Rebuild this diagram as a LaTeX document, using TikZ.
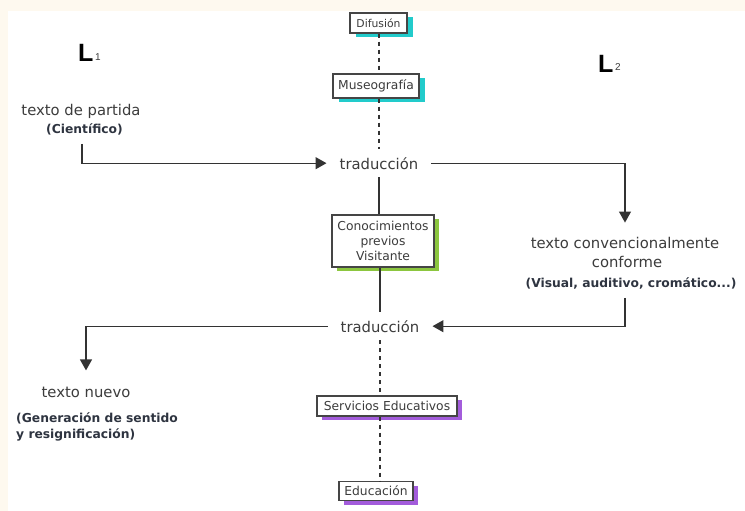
\documentclass[tikz,border=0pt]{standalone}
\usepackage{fontspec}
\setmainfont{DejaVu Sans}
\newfontfamily\Lfont{Liberation Sans}
\usetikzlibrary{arrows.meta,shadows}
\definecolor{bgcream}{HTML}{FEF9EF}
\definecolor{txtgray}{HTML}{3C3C3C}
\definecolor{boldgray}{HTML}{2E3440}
\definecolor{linegray}{HTML}{333333}
\definecolor{boxline}{HTML}{454545}
\definecolor{shcyan}{HTML}{22CBCB}
\definecolor{shgreen}{HTML}{8CC63F}
\definecolor{shpurple}{HTML}{A35CDB}
\tikzset{
  boxnode/.style={draw=boxline, line width=1.1pt, fill=white, inner sep=0pt,
    text=txtgray, font=\fontsize{12.3}{15}\selectfont, align=center},
  shcy/.style={drop shadow={shadow xshift=6pt, shadow yshift=-4pt, fill=shcyan, opacity=1}},
  shgr/.style={drop shadow={shadow xshift=5pt, shadow yshift=-4pt, fill=shgreen, opacity=1}},
  shpu/.style={drop shadow={shadow xshift=5pt, shadow yshift=-4pt, fill=shpurple, opacity=1}},
  maintxt/.style={text=txtgray, font=\fontsize{14.8}{18}\selectfont, inner sep=2pt, anchor=base},
  boldtxt/.style={text=boldgray, font=\fontsize{12.3}{16}\selectfont\bfseries, inner sep=2pt, anchor=base},
  trnode/.style={maintxt, inner xsep=13pt, inner ysep=8pt},
  arr/.style={draw=linegray, line width=1.2pt, -{Triangle[length=11pt,width=12pt]}},
  sline/.style={draw=linegray, line width=1.2pt},
  dline/.style={draw=linegray, line width=1.3pt, dash pattern=on 4pt off 4pt},
  Lbig/.style={font=\Lfont\bfseries\fontsize{25}{25}\selectfont, text=black, inner sep=0pt, anchor=base west},
  Lsub/.style={font=\Lfont\fontsize{10}{10}\selectfont, text=txtgray, inner sep=0pt, anchor=base west}
}
\begin{document}
\begin{tikzpicture}[x=1pt,y=-1pt]
\useasboundingbox (0,0) rectangle (745,511);
\fill[bgcream] (0,0) rectangle (745,511);
\fill[white] (8,11) rectangle (745,511);

% boxes
\node[boxnode, shcy, minimum width=57pt, minimum height=20pt, font=\fontsize{10.8}{12}\selectfont] (dif) at (378.5,23) {Difusión};
\node[boxnode, shcy, minimum width=86pt, minimum height=24pt] (mus) at (376,86) {Museografía};
\node[boxnode, shgr, minimum width=102pt, minimum height=52pt] (con) at (383,241) {Conocimientos\\previos\\Visitante};
\node[boxnode, shpu, minimum width=140pt, minimum height=20pt] (ser) at (387,406) {Servicios Educativos};
\node[boxnode, shpu, minimum width=74pt, minimum height=19pt] (edu) at (376,491) {Educación};

% traducción nodes
\node[trnode] (tr1) at (379,169) {traducción};
\node[trnode] (tr2) at (380,332) {traducción};

% L labels
\node[Lbig] (L1) at (78,62) {L};
\node[Lsub] (L1s) at (95,61) {1};
\node[Lbig] (L2) at (598,73) {L};
\node[Lsub] (L2s) at (615,71) {2};

% left top text
\node[maintxt] (part) at (81,115) {texto de partida};
\node[boldtxt] (cien) at (84.5,133) {(Científico)};

% right text
\node[maintxt] (conv1) at (625,248) {texto convencionalmente};
\node[maintxt] (conv2) at (627,267) {conforme};
\node[boldtxt] (conv3) at (631,287) {(Visual, auditivo, cromático...)};

% left bottom text
\node[maintxt] (nuevo) at (86,397) {texto nuevo};
\node[boldtxt, anchor=base west, inner sep=0pt] (gen1) at (16,422) {(Generación de sentido};
\node[boldtxt, anchor=base west, inner sep=0pt] (gen2) at (16,438) {y resignificación)};

% central axis
\draw[dline] (dif.south -| tr1) -- (mus.north -| tr1);
\draw[dline] (mus.south -| tr1) -- (tr1.north);
\draw[sline] (tr1.south) -- (con.north -| tr1);
\draw[sline] (con.south -| tr2) -- (tr2.north);
\draw[dline] (tr2.south) -- (ser.north -| tr2);
\draw[dline] (ser.south -| tr2) -- (edu.north -| tr2);

% arrows
\path (cien.south) ++(-2.5,7) coordinate (cs);
\draw[arr] (cs) |- (tr1.west);
\draw[arr] (tr1.east) -| ([yshift=12pt]conv1.north);
\path (conv1.south |- conv3.south) ++(0,7) coordinate (rs);
\draw[arr] (rs) |- (tr2.east);
\draw[arr] (tr2.west) -| ([yshift=14pt]nuevo.north);
\end{tikzpicture}
\end{document}
